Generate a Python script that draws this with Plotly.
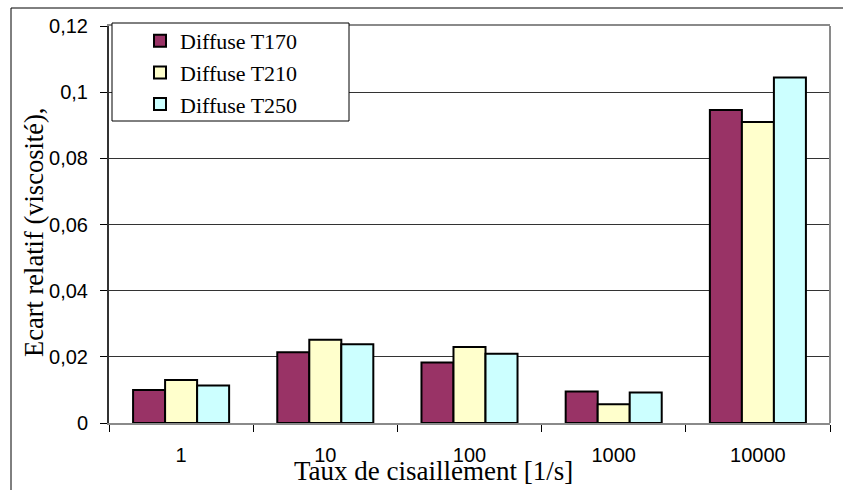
import plotly.graph_objects as go

# Shear rates (categories) and relative viscosity deviation per temperature
categories = ["1", "10", "100", "1000", "10000"]
diffuse_t170 = [0.0100, 0.0214, 0.0183, 0.0095, 0.0946]
diffuse_t210 = [0.0130, 0.0252, 0.0230, 0.0057, 0.0910]
diffuse_t250 = [0.0113, 0.0238, 0.0209, 0.0092, 0.1044]
series_names = ["Diffuse T170", "Diffuse T210", "Diffuse T250"]
series_colors = ["#993366", "#FFFFCC", "#CCFFFF"]
y_ticks = [0, 0.02, 0.04, 0.06, 0.08, 0.1, 0.12]
y_tick_text = ["0", "0,02", "0,04", "0,06", "0,08", "0,1", "0,12"]

SERIF = "Liberation Serif, Times New Roman, Times, serif"
SANS = "Liberation Sans, Arial, Helvetica, sans-serif"

W, H = 843, 490
L, R, T, B = 109, 13, 26, 67
PW, PH = W - L - R, H - T - B


def px(x):
    return (x - L) / PW


def py(y):
    return (H - B - y) / PH


fig = go.Figure()
for name, vals, col in zip(series_names, [diffuse_t170, diffuse_t210, diffuse_t250], series_colors):
    fig.add_trace(go.Bar(
        x=categories, y=vals, name=name,
        marker=dict(color=col, line=dict(color="black", width=2)),
    ))

shapes = [
    # outer chart frame (top and left edges)
    dict(type="line", xref="paper", yref="paper", x0=px(11), x1=px(W + 5), y0=py(8), y1=py(8),
         line=dict(color="black", width=1)),
    dict(type="line", xref="paper", yref="paper", x0=px(11), x1=px(11), y0=py(8), y1=py(H + 5),
         line=dict(color="black", width=1)),
    # right border of plot area
    dict(type="line", xref="paper", yref="paper", x0=1, x1=1, y0=0, y1=1,
         line=dict(color="#8a8a8a", width=2)),
    # legend box
    dict(type="rect", xref="paper", yref="paper", x0=px(112), x1=px(349), y0=py(23), y1=py(121),
         fillcolor="white", line=dict(color="black", width=1), layer="above"),
]

fig.update_layout(
    width=W, height=H,
    margin=dict(l=L, r=R, t=T, b=B, pad=0),
    paper_bgcolor="white", plot_bgcolor="white",
    barmode="group", bargap=0.334, bargroupgap=0,
    showlegend=True,
    legend=dict(
        x=px(140), y=py(20), xanchor="left", yanchor="top",
        bgcolor="rgba(0,0,0,0)", borderwidth=0,
        font=dict(family=SERIF, size=22, color="black"),
        tracegroupgap=0,
    ),
    shapes=shapes,
    annotations=[
        dict(text="Ecart relatif (viscosité),", xref="paper", yref="paper",
             x=px(34), y=py(233), xanchor="center", yanchor="middle", textangle=-90,
             showarrow=False, font=dict(family=SERIF, size=26.5, color="black")),
        dict(text="Taux de cisaillement [1/s]", xref="paper", yref="paper",
             x=px(433), y=py(471), xanchor="center", yanchor="middle",
             showarrow=False, font=dict(family=SERIF, size=27, color="black")),
    ],
    xaxis=dict(
        type="category", showline=True, linecolor="#8a8a8a", linewidth=2, mirror=True,
        ticks="outside", tickson="boundaries", ticklen=7, tickcolor="black", tickwidth=1,
        tickfont=dict(family=SANS, size=20, color="black"),
        ticklabelstandoff=13, showgrid=False,
    ),
    yaxis=dict(
        range=[0, 0.12], tickvals=y_ticks, ticktext=y_tick_text,
        showline=True, linecolor="#333333", linewidth=2,
        ticks="outside", ticklen=7, tickcolor="black", tickwidth=1,
        tickfont=dict(family=SANS, size=20, color="black"),
        ticklabelstandoff=8,
        showgrid=True, gridcolor="#333333", gridwidth=1, zeroline=False,
    ),
)

fig.write_html("out.html")
